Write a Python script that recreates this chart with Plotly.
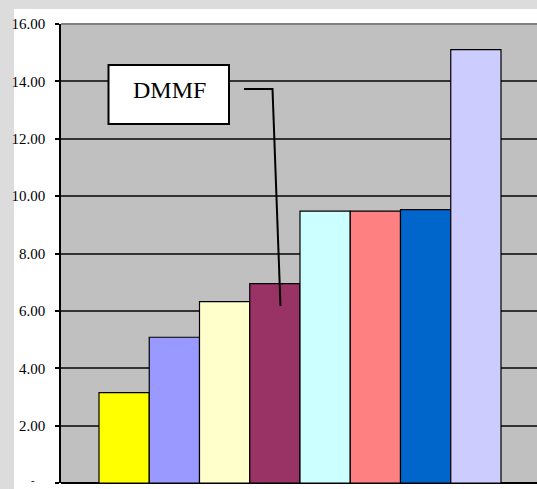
import plotly.graph_objects as go

# Series values (one bar per sample)
series_names = ["S1", "S2", "S3", "S4", "S5", "S6", "S7", "S8"]
series_values = [3.15, 5.08, 6.32, 6.95, 9.48, 9.48, 9.53, 15.11]
series_colors = ["#FFFF00", "#9999FF", "#FFFFCC", "#993366",
                 "#CCFFFF", "#FF8080", "#0066CC", "#CCCCFF"]

tick_vals = [0, 2, 4, 6, 8, 10, 12, 14, 16]
tick_text = ["", "2.00", "4.00", "6.00", "8.00",
             "10.00", "12.00", "14.00", "16.00"]
zero_label = "-"

W, H = 537, 489
ML, MT, MB = 61, 24, 6
SERIF = "Liberation Serif, Times New Roman, serif"

fig = go.Figure()
for name, val, col in zip(series_names, series_values, series_colors):
    fig.add_trace(go.Bar(
        x=[0], y=[val], name=name,
        marker=dict(color=col, line=dict(color="#000000", width=1.2)),
    ))

def px_x(p):
    return (p - ML) / (W - ML)

def px_y(p):
    return (H - MB - p) / (H - MT - MB)

shapes = [
    # outer white panel
    dict(type="rect", xref="paper", yref="paper", layer="below",
         x0=px_x(14), x1=px_x(W + 5), y0=px_y(H + 5), y1=px_y(9),
         fillcolor="#FFFFFF", line=dict(width=0)),
    # plot area
    dict(type="rect", xref="paper", yref="paper", layer="below",
         x0=0, x1=px_x(W + 5), y0=0, y1=1,
         fillcolor="#C0C0C0", line=dict(width=0)),
    # plot area top border
    dict(type="line", xref="paper", yref="paper",
         x0=0, x1=px_x(W + 5), y0=1, y1=1,
         line=dict(color="#808080", width=2)),
    # DMMF label box
    dict(type="rect", xref="paper", yref="paper",
         x0=px_x(108.5), x1=px_x(229), y0=px_y(124), y1=px_y(65),
         fillcolor="#FFFFFF", line=dict(color="#000000", width=2)),
    # leader line to the DMMF bar
    dict(type="path", xref="paper", yref="paper",
         path=f"M {px_x(244)},{px_y(89)} L {px_x(272.5)},{px_y(89)} L {px_x(280.5)},{px_y(306)}",
         line=dict(color="#000000", width=2)),
]

fig.update_layout(
    width=W, height=H,
    margin=dict(l=ML, r=0, t=MT, b=MB),
    paper_bgcolor="#DCDCDC",
    plot_bgcolor="rgba(0,0,0,0)",
    barmode="group",
    bargap=0.159,
    bargroupgap=0,
    showlegend=False,
    shapes=shapes,
    annotations=[
        dict(text="DMMF", xref="paper", yref="paper",
             x=px_x(169), y=px_y(90),
             xanchor="center", yanchor="middle", showarrow=False,
             font=dict(family=SERIF, size=24, color="#000000")),
        dict(text=zero_label, xref="paper", yref="y",
             x=px_x(33), y=0, yshift=-5,
             xanchor="center", yanchor="bottom", showarrow=False,
             font=dict(family=SERIF, size=11, color="#000000")),
    ],
)

fig.update_xaxes(
    range=[-0.5, -0.5 + (W - ML) / 478],
    showticklabels=False, showgrid=False, zeroline=False,
    showline=False, ticks="",
)
fig.update_yaxes(
    range=[0, 16],
    tickvals=tick_vals, ticktext=tick_text,
    ticks="outside", ticklen=4, tickcolor="#000000", tickwidth=1.5,
    ticklabelstandoff=7,
    tickfont=dict(family=SERIF, size=15, color="#000000"),
    showgrid=True, gridcolor="#333333", gridwidth=1.5,
    zeroline=True, zerolinecolor="#000000", zerolinewidth=1.5,
    showline=True, linecolor="#000000", linewidth=1.5,
)

fig.write_html("out.html")
